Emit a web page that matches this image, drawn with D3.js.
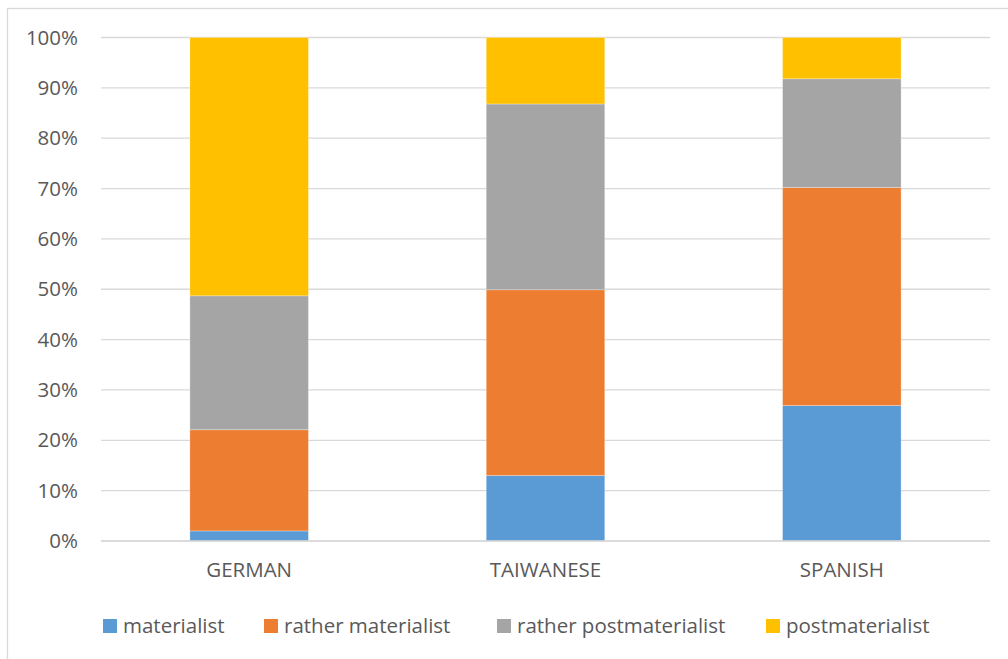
<!DOCTYPE html>
<html>
<head>
<meta charset="utf-8">
<script src="https://cdn.jsdelivr.net/npm/d3@7"></script>
<style>
  html, body { margin: 0; padding: 0; background: #fff; }
  svg { display: block; font-family: "Open Sans", "Liberation Sans", sans-serif; }
</style>
</head>
<body>
<svg id="chart" width="1008" height="659"></svg>
<script>
// Value orientation shares (%) by group
const categories = ["GERMAN", "TAIWANESE", "SPANISH"];
const seriesNames = ["materialist", "rather materialist", "rather postmaterialist", "postmaterialist"];
const materialist = [2.0, 13.0, 26.9];
const ratherMaterialist = [20.1, 36.9, 43.3];
const ratherPostmaterialist = [26.6, 36.9, 21.6];
const postmaterialist = [51.3, 13.2, 8.2];
const yTicks = [0, 10, 20, 30, 40, 50, 60, 70, 80, 90, 100];
const colors = ["#5B9BD5", "#ED7D31", "#A5A5A5", "#FFC000"];

const seriesValues = [materialist, ratherMaterialist, ratherPostmaterialist, postmaterialist];
const rows = categories.map((c, i) => {
  const r = { category: c };
  seriesNames.forEach((s, j) => { r[s] = seriesValues[j][i]; });
  return r;
});

const svg = d3.select("#chart");
const margin = { left: 101, right: 18, top: 37.5, bottom: 118 };
const W = 1008, H = 659;
const fontSize = 20.5;
const textColor = "#595959";

// chart area border
svg.append("rect")
  .attr("x", 7.5).attr("y", 8.5)
  .attr("width", W + 10).attr("height", H + 10)
  .attr("fill", "none").attr("stroke", "#d9d9d9").attr("stroke-width", 1.3);

const x = d3.scaleBand()
  .domain(categories)
  .range([margin.left, W - margin.right])
  .paddingInner(0.6).paddingOuter(0.3);

const y = d3.scaleLinear().domain([0, 100]).range([541, 37.5]);

// gridlines
svg.append("g")
  .selectAll("line").data(yTicks).join("line")
  .attr("x1", margin.left).attr("x2", W - margin.right)
  .attr("y1", d => y(d)).attr("y2", d => y(d))
  .attr("stroke", "#d9d9d9").attr("stroke-width", 1.3);

// y axis labels
const yAxis = d3.axisLeft(y).tickValues(yTicks).tickFormat(d => d + "%").tickSize(0).tickPadding(23);
const gy = svg.append("g").attr("transform", `translate(${margin.left},0)`).call(yAxis);
gy.select(".domain").remove();
gy.selectAll("text").attr("fill", textColor).attr("font-size", fontSize)
  .attr("font-family", "'Open Sans', 'Liberation Sans', sans-serif");

// stacked bars
const stack = d3.stack().keys(seriesNames);
const layers = stack(rows);
svg.append("g")
  .selectAll("g").data(layers).join("g")
  .attr("fill", (d, i) => colors[i])
  .selectAll("rect").data(d => d.map(v => ({ v, cat: v.data.category }))).join("rect")
  .attr("x", d => x(d.cat))
  .attr("width", x.bandwidth())
  .attr("y", d => y(d.v[1]))
  .attr("height", d => y(d.v[0]) - y(d.v[1]))
  .attr("stroke", "#ffffff").attr("stroke-opacity", 0.35).attr("stroke-width", 0.8);

// baseline
svg.append("line")
  .attr("x1", margin.left).attr("x2", W - margin.right)
  .attr("y1", y(0)).attr("y2", y(0))
  .attr("stroke", "#d9d9d9").attr("stroke-width", 1.3);

// category labels
const xAxis = d3.axisBottom(x).tickSize(0).tickPadding(21);
const gx = svg.append("g").attr("transform", `translate(0,${y(0)})`).call(xAxis);
gx.select(".domain").remove();
gx.selectAll("text").attr("fill", textColor).attr("font-size", fontSize)
  .attr("font-family", "'Open Sans', 'Liberation Sans', sans-serif");

// legend
const legendX = [103, 264, 497, 766];
const legend = svg.append("g");
seriesNames.forEach((name, i) => {
  const g = legend.append("g").attr("transform", `translate(${legendX[i]},619)`);
  g.append("rect").attr("width", 14).attr("height", 14).attr("fill", colors[i]);
  g.append("text").attr("x", 20).attr("y", 14)
    .attr("font-size", fontSize).attr("fill", textColor).text(name);
});
</script>
</body>
</html>
